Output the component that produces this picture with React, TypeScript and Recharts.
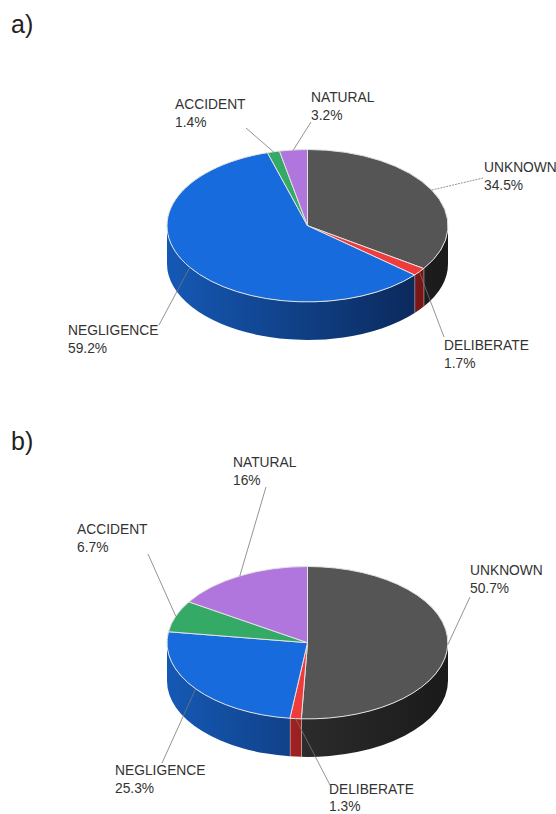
import { PieChart, Pie } from 'recharts';

const NAMES = ['UNKNOWN', 'DELIBERATE', 'NEGLIGENCE', 'ACCIDENT', 'NATURAL'];
const VALUES_A = [34.5, 1.7, 59.2, 1.4, 3.2];
const VALUES_B = [50.7, 1.3, 25.3, 6.7, 16];

const TOP_COLORS = ['#555555', '#ef3b3b', '#176bdd', '#35aa66', '#b176de'];
const SIDE_LEFT = ['#3c3c3c', '#c42a2a', '#1559b5', '#2a8a52', '#8f5cb8'];
const SIDE_RIGHT = ['#1a1a1a', '#701414', '#0a2350', '#1a5a34', '#5c3a78'];

// label left x, first line baseline y, leader end x, leader end y
const LABELS_A = [
  [484, 172, 483, 178],
  [444, 350, 444, 337],
  [68, 335, 159, 325],
  [175, 109, 246, 128],
  [311, 102, 311, 122],
];
const LABELS_B = [
  [470, 575, 470, 597],
  [329, 793.5, 330, 785],
  [115, 775, 162, 763],
  [77, 534, 148, 554],
  [233, 467, 266, 487],
];

const RX = 140.5;
const RY = 76.2;
const DEPTH = 38;
const RAD = Math.PI / 180;
const LABEL_FONT = '"Liberation Sans", Arial, sans-serif';

const toRows = (values: number[]) =>
  NAMES.map((name, i) => ({ name, value: values[i], fill: TOP_COLORS[i] }));

const pt = (cx: number, cy: number, a: number, dy = 0) =>
  `${(cx + RX * Math.cos(a * RAD)).toFixed(2)} ${(cy - RY * Math.sin(a * RAD) + dy).toFixed(2)}`;

const sliceShape = (prefix: string) => (props: any) => {
  const { cx, cy, startAngle, endAngle, fill, index } = props;
  const large = Math.abs(startAngle - endAngle) > 180 ? 1 : 0;
  const top = `M ${cx} ${cy} L ${pt(cx, cy, startAngle)} A ${RX} ${RY} 0 ${large} 1 ${pt(cx, cy, endAngle)} Z`;

  // only the part of the rim facing the viewer gets a side wall (angles 0 to -180)
  const from = Math.min(startAngle, 0);
  const to = Math.max(endAngle, -180);
  const hasSide = from > to;
  const gradId = `${prefix}-side-${index}`;
  const side = `M ${pt(cx, cy, from)} A ${RX} ${RY} 0 0 1 ${pt(cx, cy, to)} L ${pt(cx, cy, to, DEPTH)} A ${RX} ${RY} 0 0 0 ${pt(cx, cy, from, DEPTH)} Z`;

  return (
    <g>
      {hasSide && (
        <>
          <defs>
            <linearGradient id={gradId} gradientUnits="userSpaceOnUse" x1={cx - RX} y1={0} x2={cx + RX} y2={0}>
              <stop offset="0%" stopColor={SIDE_LEFT[index]} />
              <stop offset="100%" stopColor={SIDE_RIGHT[index]} />
            </linearGradient>
          </defs>
          <path d={side} fill={`url(#${gradId})`} stroke="none" />
          {to > -180 && (
            <path d={`M ${pt(cx, cy, to)} L ${pt(cx, cy, to, DEPTH)}`} stroke="#e4e4e4" strokeWidth={1} />
          )}
        </>
      )}
      <path d={top} fill={fill} stroke="#e2e2e2" strokeWidth={1} strokeLinejoin="round" />
    </g>
  );
};

const sliceLabel = (positions: number[][], dotted: number) => (props: any) => {
  const { cx, cy, midAngle, index, name, value } = props;
  const [tx, ty, ex, ey] = positions[index];
  const sx = cx + RX * Math.cos(midAngle * RAD);
  const sy = cy - RY * Math.sin(midAngle * RAD);
  return (
    <g>
      <line x1={sx} y1={sy} x2={ex} y2={ey} stroke="#777" strokeWidth={0.8}
        strokeDasharray={index === dotted ? '2 1' : undefined} />
      <text x={tx} y={ty} fill="#333" fontSize={13.8} fontFamily={LABEL_FONT}>{name}</text>
      <text x={tx} y={ty + 17.5} fill="#333" fontSize={13.8} fontFamily={LABEL_FONT}>{`${value}%`}</text>
    </g>
  );
};

const panelLabel = { position: 'absolute', left: 11, fontFamily: LABEL_FONT, fontSize: 25, color: '#222', lineHeight: '28px' } as const;

export default function App() {
  return (
    <div style={{ position: 'absolute', left: 0, top: 0, width: 556, height: 814, overflow: 'hidden', background: '#fff' }}>
      <PieChart width={556} height={814} margin={{ top: 0, right: 0, bottom: 0, left: 0 }}>
        <Pie data={toRows(VALUES_A)} dataKey="value" nameKey="name" cx={307.5} cy={225.7} outerRadius={RX}
          startAngle={90} endAngle={-270} isAnimationActive={false} shape={sliceShape('a')}
          label={sliceLabel(LABELS_A, 0)} labelLine={false} stroke="none" />
        <Pie data={toRows(VALUES_B)} dataKey="value" nameKey="name" cx={307.5} cy={642.7} outerRadius={RX}
          startAngle={90} endAngle={-270} isAnimationActive={false} shape={sliceShape('b')}
          label={sliceLabel(LABELS_B, -1)} labelLine={false} stroke="none" />
      </PieChart>
      <div style={{ ...panelLabel, top: 10 }}>a)</div>
      <div style={{ ...panelLabel, top: 427 }}>b)</div>
    </div>
  );
}
